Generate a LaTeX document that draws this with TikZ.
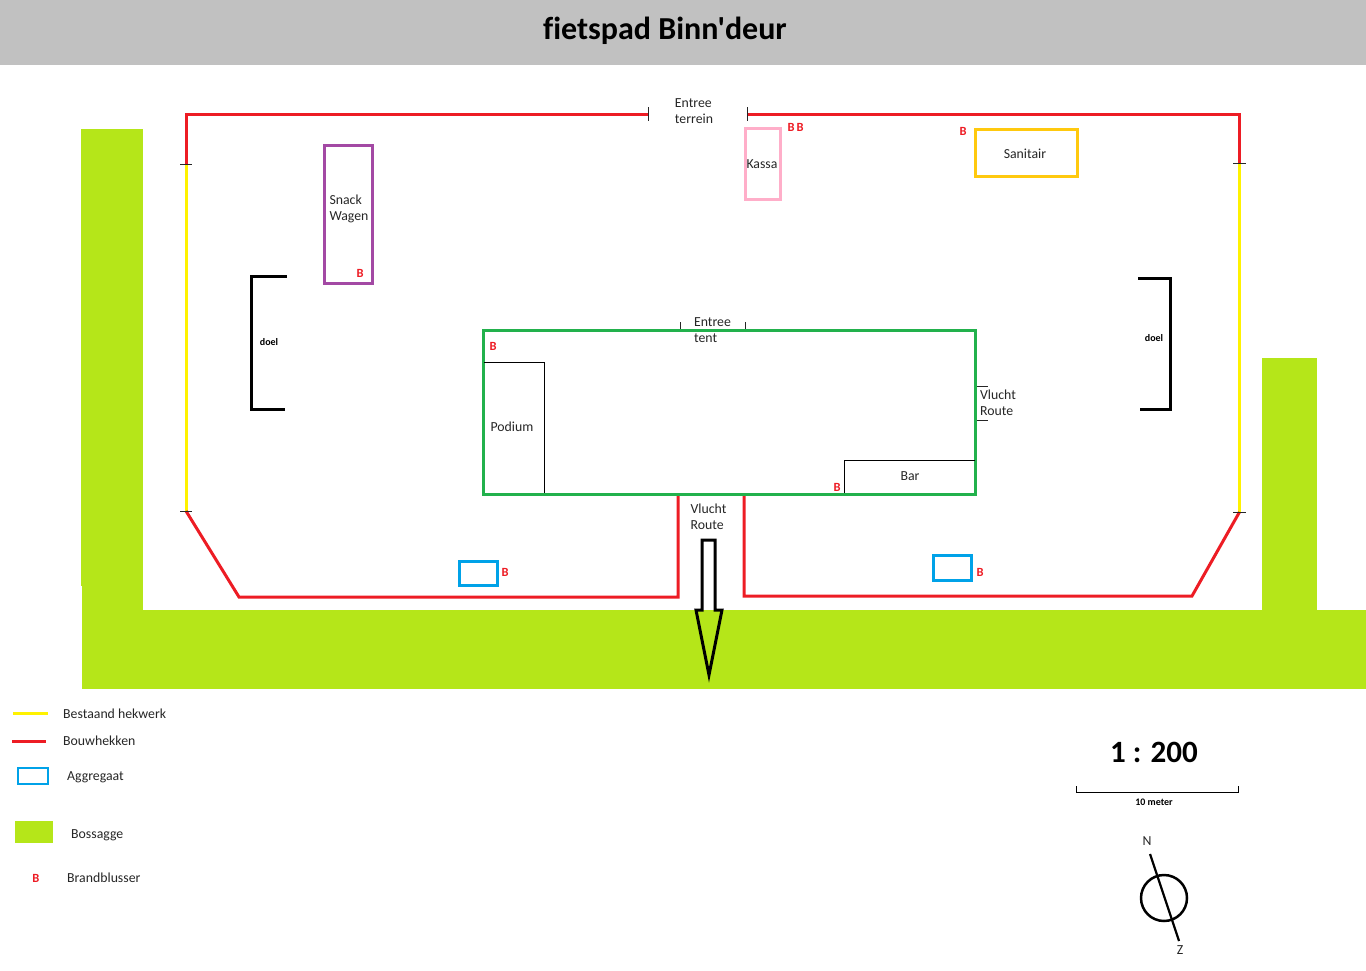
\documentclass[tikz,border=0pt]{standalone}
\usepackage{fontspec}
\setmainfont{Carlito}
\newfontfamily\titlefont[Ligatures=NoCommon]{Carlito}
\definecolor{bush}{RGB}{181,230,25}
\definecolor{fence}{RGB}{237,28,36}
\definecolor{oldfence}{RGB}{255,242,0}
\definecolor{tent}{RGB}{34,177,76}
\definecolor{gen}{RGB}{0,162,232}
\definecolor{snack}{RGB}{163,73,164}
\definecolor{kassa}{RGB}{255,174,201}
\definecolor{sanitair}{RGB}{255,201,14}
\begin{document}
\begin{tikzpicture}[x=1pt, y=-1pt]
\tikzstyle{every node} = [font=\fontsize{13.8}{16}\selectfont, text=black!85, align=left, inner sep=0pt]
\tikzstyle{red fence} = [draw=fence, line width=3pt, miter limit=10]
\tikzstyle{yellow fence} = [draw=oldfence, line width=3pt]
\tikzstyle{post} = [draw=black!85, line width=1pt]
\tikzstyle{goal} = [draw=black, line width=3pt]
\tikzstyle{hedge} = [fill=bush, draw=none]
\tikzstyle{thin wall} = [draw=black, line width=0.8pt]
\tikzstyle{genset} = [draw=gen, line width=3pt, fill=white]
\tikzstyle{blusser} = [font=\fontsize{12.5}{14}\selectfont\bfseries, text=fence]
\tikzstyle{small bold} = [font=\fontsize{10}{12}\selectfont\bfseries, text=black]
\useasboundingbox (0, 0) rectangle (1366, 970);

% title
\fill [black!24.5] (0, 0) rectangle (1366, 65);
\node [font=\titlefont\fontsize{32}{35}\selectfont\bfseries, text=black] (title) at (665, 31) {fietspad Binn'deur};

% bossage
\fill [hedge] (81, 129) rectangle (143, 586);
\fill [hedge] (82, 586) rectangle (143, 610);
\fill [hedge] (1262, 358) rectangle (1317, 610);
\fill [hedge] (82, 610) rectangle (1366, 689);

% hekken
\coordinate (gateL) at (648, 114);
\coordinate (gateR) at (747, 114);
\coordinate (tl) at (186, 164);
\coordinate (tr) at (1239.5, 163);
\coordinate (bl) at (186, 511);
\coordinate (br) at (1239.5, 512);
\draw [red fence] (gateL) -- (186, 114) -- (tl);
\draw [red fence] (gateR) -- (1239.5, 114) -- (tr);
\draw [yellow fence] (tl) -- (bl);
\draw [yellow fence] (tr) -- (br);
\draw [red fence] (bl) -- (239, 597) -- (678, 597) -- (678, 495);
\draw [red fence] (br) -- (1192, 596) -- (744, 596) -- (744, 495);
\draw [post] (648, 107) -- (648, 121);
\draw [post] (747, 107) -- (747, 121);
\draw [post] (180, 164) -- (192, 164);
\draw [post] (1233, 163) -- (1246, 163);
\draw [post] (180, 511) -- (192, 511);
\draw [post] (1233, 512) -- (1246, 512);
\node (entree) at (694, 111) {Entree\\terrein};

% doelen
\draw [goal] (287, 276) -- (251, 276) -- (251, 409.5) -- (285, 409.5);
\draw [goal] (1138, 278) -- (1170.5, 278) -- (1170.5, 409.5) -- (1140, 409.5);
\node [small bold] (doel1) at (269, 342) {doel};
\node [small bold] (doel2) at (1154, 338) {doel};

% kramen
\draw [draw=snack, line width=3pt] (324, 145) rectangle (372.5, 283.5);
\node (wagen) at (349, 208.5) {Snack\\Wagen};
\draw [draw=kassa, line width=3pt] (745, 128) rectangle (780.5, 199);
\node (kassa) at (762, 164) {Kassa};
\draw [draw=sanitair, line width=3pt] (975, 129) rectangle (1077.5, 176);
\node (sanitair) at (1025, 154) {Sanitair};

% tent
\draw [draw=tent, line width=3pt] (483, 330) rectangle (975.5, 494);
\draw [thin wall] (484, 362) -- (544.5, 362) -- (544.5, 493);
\draw [thin wall] (844.5, 493) -- (844.5, 460.5) -- (975, 460.5);
\node (podium) at (512, 427) {Podium};
\node (bar) at (910, 476) {Bar};
\draw [post, line width=0.7pt] (680, 322) -- (680, 329);
\draw [post, line width=0.7pt] (745, 322) -- (745, 329);
\node (tent) at (712.5, 330) {Entree\\tent};
\draw [post, line width=0.7pt] (977, 386) -- (988, 386);
\draw [post, line width=0.7pt] (977, 420) -- (988, 420);
\node (vr1) at (998, 402.5) {Vlucht\\Route};
\node (vr2) at (708.5, 517) {Vlucht\\Route};

% vluchtpijl
\draw [draw=black, line width=3pt, line join=miter] (702, 540) -- (715, 540) -- (715, 610) -- (722, 610) -- (709, 675) -- (696, 610) -- (702, 610) -- cycle;

% aggregaten
\draw [genset] (459, 561) rectangle (497.5, 585);
\draw [genset] (933, 555) rectangle (971.5, 580.5);

% blussers
\node [blusser] (b1) at (791, 127) {B};
\node [blusser] (b2) at (800, 127) {B};
\node [blusser] (b3) at (963, 131) {B};
\node [blusser] (b4) at (360, 273) {B};
\node [blusser] (b5) at (493, 346.5) {B};
\node [blusser] (b6) at (837, 487) {B};
\node [blusser] (b7) at (505, 572.5) {B};
\node [blusser] (b8) at (980, 572.5) {B};

% legenda
\draw [yellow fence] (13, 713.5) -- (48, 713.5);
\draw [red fence] (12, 741) -- (46, 741);
\draw [genset, line width=2.5pt] (18, 768) rectangle (48, 784);
\fill [hedge] (15, 821) rectangle (53, 843);
\node [blusser] (b9) at (36, 878) {B};
\node [anchor=west] (leg1) at (63, 714) {Bestaand hekwerk};
\node [anchor=west] (leg2) at (63, 741) {Bouwhekken};
\node [anchor=west] (leg3) at (67, 777) {Aggregaat};
\node [anchor=west] (leg4) at (71, 835) {Bossagge};
\node [anchor=west] (leg5) at (67, 878) {Brandblusser};

% schaal
\node [font=\fontsize{31}{34}\selectfont\bfseries, text=black] (schaal) at (1154, 752) {1 : 200};
\draw [draw=black, line width=1pt] (1076, 786) -- (1076, 792) -- (1238, 792) -- (1238, 786);
\node [small bold] (meter) at (1154, 802) {10 meter};

% windroos
\draw [draw=black, line width=2.5pt] (1164, 898) circle (23);
\draw [draw=black, line width=2.2pt] (1150, 854) -- (1179, 941);
\node (n) at (1147, 841) {N};
\node (z) at (1180, 950) {Z};
\end{tikzpicture}
\end{document}
